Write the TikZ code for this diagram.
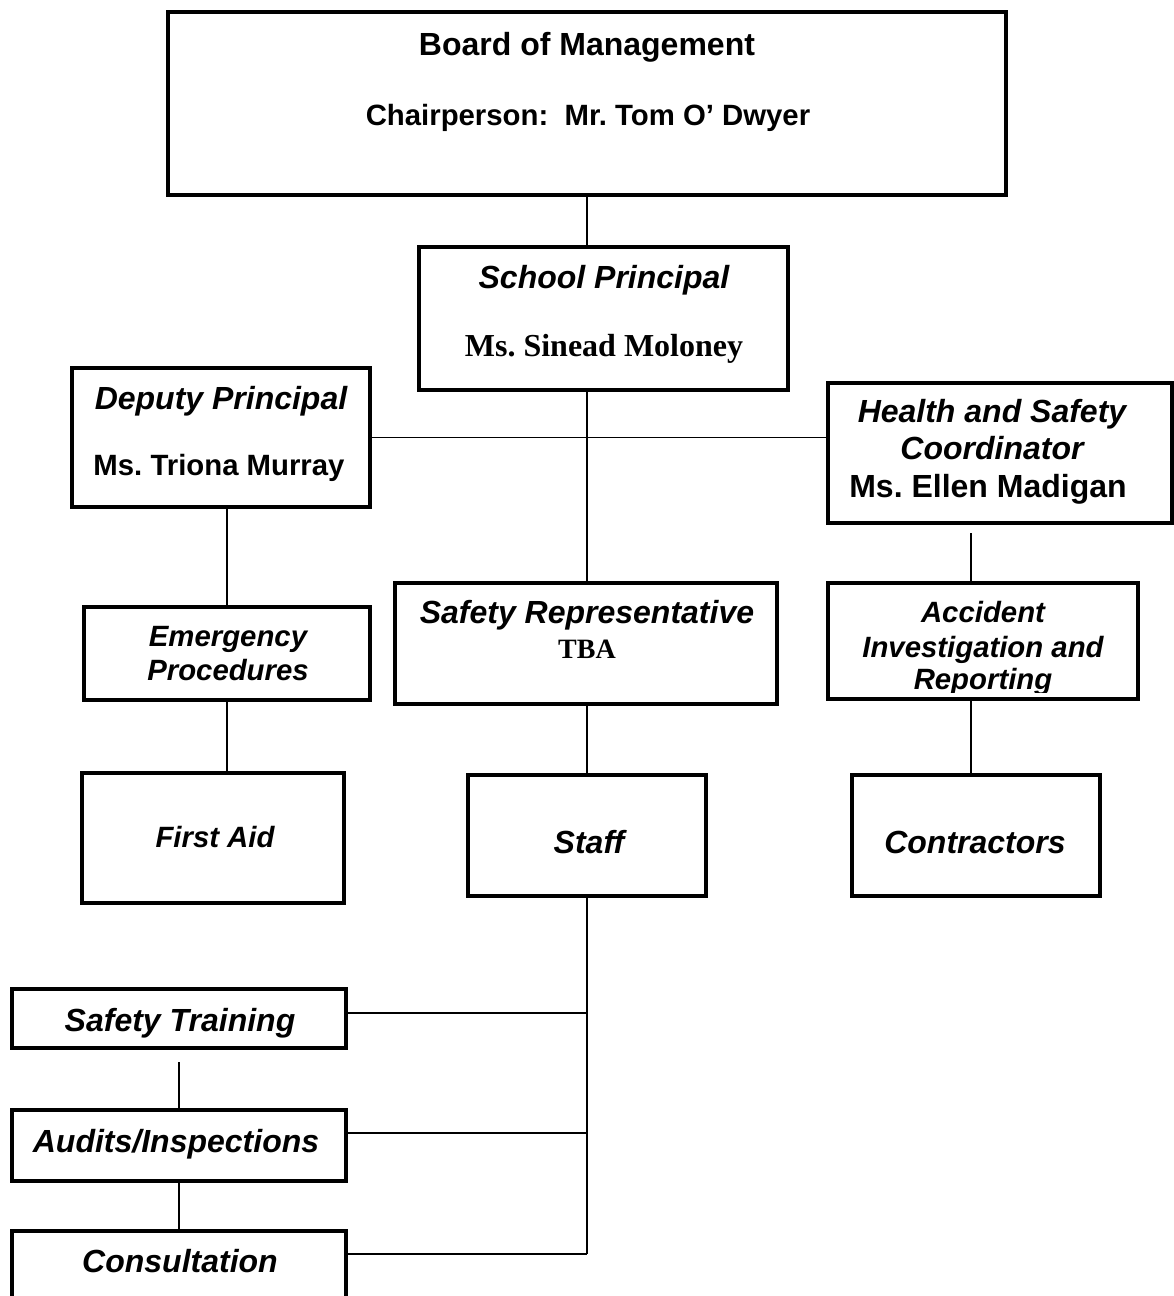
\documentclass[tikz,border=0pt]{standalone}
\usepackage{fontspec}
\setmainfont{Liberation Sans}
\newfontfamily\tmsfont{Liberation Serif}
\newcommand{\boxnode}[5]{\node[box, minimum width={(#4-#2-4)*0.75pt}, minimum height={(#5-#3-4)*0.75pt}] (#1) at ({(#2+#4)/2},{(#3+#5)/2}) {};}
\frenchspacing
\begin{document}
\frenchspacing
\begin{tikzpicture}[x=0.75pt,y=-0.75pt,
  box/.style={draw, rectangle, line width=3pt, inner sep=0pt, outer sep=0pt},
  conn/.style={line width=1.3pt},
  tb/.style={anchor=base, inner sep=0pt, font=\bfseries\fontsize{24}{28}\selectfont},
  tbs/.style={anchor=base, inner sep=0pt, font=\bfseries\fontsize{22}{26}\selectfont},
  ti/.style={anchor=base, inner sep=0pt, font=\bfseries\itshape\fontsize{24}{28}\selectfont},
  tis/.style={anchor=base, inner sep=0pt, font=\bfseries\itshape\fontsize{22}{26}\selectfont},
  tser/.style={anchor=base, inner sep=0pt, font=\tmsfont\bfseries\fontsize{24}{28}\selectfont},
  tsers/.style={anchor=base, inner sep=0pt, font=\tmsfont\bfseries\fontsize{21}{25}\selectfont}]
\useasboundingbox (0,0) rectangle (1174,1296);

% boxes (outer edges in px)
\boxnode{board}{166}{10}{1008}{197}
\boxnode{principal}{417}{245}{790}{392}
\boxnode{deputy}{70}{366}{372}{509}
\boxnode{hs}{826}{381}{1174}{525}
\boxnode{saferep}{393}{581}{779}{706}
\boxnode{emerg}{82}{605}{372}{702}
\boxnode{accident}{826}{581}{1140}{701}
\boxnode{firstaid}{80}{771}{346}{905}
\boxnode{staff}{466}{773}{708}{898}
\boxnode{contractors}{850}{773}{1102}{898}
\boxnode{training}{10}{987}{348}{1050}
\boxnode{audits}{10}{1108}{348}{1183}
\boxnode{consult}{10}{1229}{348}{1312}

% texts
\node[tb] (tboard) at (587,55) {Board of Management};
\node[tbs] (tchair) at (588,125) {Chairperson:\ \ Mr. Tom O’ Dwyer};
\node[ti] (tprin) at (604,288) {School Principal};
\node[tser] (tprinname) at (604,356) {Ms. Sinead Moloney};
\node[ti] (tdep) at (221,409) {Deputy Principal};
\node[tbs] (tdepname) at (219,475) {Ms. Triona Murray};
\node[ti] (ths1) at (992,422) {Health and Safety};
\node[ti] (ths2) at (992,459.5) {Coordinator};
\node[tb] (thsname) at (988,497) {Ms. Ellen Madigan};
\node[ti] (tsr) at (587,623) {Safety Representative};
\node[tsers] (ttba) at (587,658) {TBA};
\node[tis] (tem1) at (228,646) {Emergency};
\node[tis] (tem2) at (228,680) {Procedures};
\node[tis] (tacc1) at (983,622) {Accident};
\node[tis] (tacc2) at (983,657) {Investigation and};
\begin{scope}
  \clip (826,581) rectangle (1140,692);
  \node[tis] (tacc3) at (983,689) {Reporting};
\end{scope}
\node[tis] (tfa) at (215,847) {First Aid};
\node[ti] (tstaff) at (589,853) {Staff};
\node[ti] (tcontr) at (975,853) {Contractors};
\node[ti] (ttrain) at (180,1031) {Safety Training};
\node[ti] (taud) at (176,1152) {Audits/Inspections};
\node[ti] (tcons) at (180,1272) {Consultation};

% connector helper points
\coordinate (spine) at (587,0);
\coordinate (hsgap) at (971,533);
\coordinate (tgap) at (179,1062);
\coordinate (j1) at (587,1013);
\coordinate (j2) at (587,1133);
\coordinate (j3) at (587,1254);

% connectors
\draw[conn] (board.south) -- (board.south |- principal.north);
\draw[conn] (principal.south -| spine) -- (saferep.north -| spine);
\draw[conn] (deputy.east) -- (deputy.east -| hs.west);
\draw[conn] (emerg.north |- deputy.south) -- (emerg.north);
\draw[conn] (emerg.south) -- (emerg.south |- firstaid.north);
\draw[conn] (hsgap) -- (hsgap |- accident.north);
\draw[conn] (hsgap |- accident.south) -- (hsgap |- contractors.north);
\draw[conn] (saferep.south -| spine) -- (staff.north -| spine);
\draw[conn] (staff.south -| spine) -- (j3);
\draw[conn] (j1) -- (j1 -| training.east);
\draw[conn] (j2) -- (j2 -| audits.east);
\draw[conn] (j3) -- (j3 -| consult.east);
\draw[conn] (tgap) -- (tgap |- audits.north);
\draw[conn] (audits.south -| tgap) -- (consult.north -| tgap);
\end{tikzpicture}
\end{document}
